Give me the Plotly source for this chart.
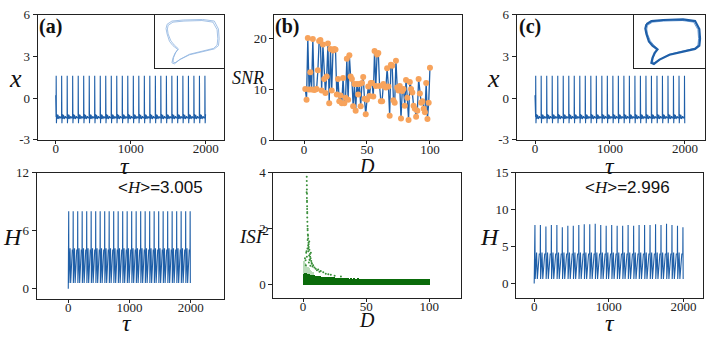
import plotly.graph_objects as go

W, H = 708, 339

# ---------------- data ----------------
# spike onset times (tau) (a)/(c)
spike_t_a = [5, 78, 152, 225, 299, 372, 446, 519, 593, 666, 740, 813, 887, 960,
             1034, 1107, 1181, 1254, 1328, 1401, 1475, 1548, 1622, 1695, 1769, 1842, 1916, 1989]
spike_t_c = [8, 81, 155, 228, 302, 375, 449, 522, 596, 669, 743, 816, 890, 963,
             1037, 1110, 1184, 1257, 1331, 1404, 1478, 1551, 1625, 1698, 1772, 1845, 1919, 1992]
# one-period waveform of x (offset from onset, value)
x_wave_dt = [0, 1.5, 5, 10, 16, 26, 36, 50, 62, 72]
x_wave_v = [-1.35, 1.6, -1.8, -1.15, -1.5, -1.2, -1.5, -1.3, -1.45, -1.35]
# one-period waveform of H
h_wave_dt = [0, 2, 5, 24, 34, 60]
h_wave_v = [4.0, 8.0, 0.6, 4.2, 0.6, 4.0]
# per-spike H peaks, panel (c)
h_peaks_c = [7.9, 7.9, 7.7, 7.9, 7.9, 7.6, 7.8, 7.8, 7.9, 8.0, 8.0, 8.1, 7.9, 7.8,
             7.9, 7.8, 7.8, 7.9, 7.8, 7.9, 7.9, 7.9, 8.0, 7.9, 8.1, 7.9, 7.8, 7.6]

# SNR vs D
snr_D = list(range(1, 101))
snr_v = [10.1, 8.0, 20.2, 10.0, 13.4, 10.0, 20.0, 9.9, 10.0, 10.1,
         13.8, 19.6, 19.8, 9.8, 18.9, 12.1, 9.3, 12.6, 19.1, 7.3,
         18.0, 9.8, 17.7, 18.0, 17.9, 9.0, 12.1, 7.7, 8.8, 7.3,
         12.3, 7.3, 8.4, 16.1, 8.0, 16.8, 12.6, 12.1, 6.7, 11.1,
         5.8, 11.1, 9.0, 11.1, 6.7, 11.3, 12.5, 8.2, 5.1, 8.0,
         10.6, 8.7, 11.3, 11.3, 8.6, 17.6, 10.7, 16.9, 17.2, 10.7,
         7.7, 7.7, 11.1, 10.6, 10.4, 14.2, 10.6, 4.8, 14.9, 14.7,
         7.9, 7.4, 15.7, 10.4, 9.8, 10.7, 4.3, 9.7, 10.1, 6.8,
         11.9, 8.4, 4.0, 11.5, 10.1, 9.4, 6.8, 6.2, 4.6, 5.8,
         12.1, 9.2, 7.4, 7.7, 6.2, 5.5, 11.3, 4.2, 7.4, 14.3]

# ISI^2 vs D : dense band (upper edge per D) + scattered points
band_D = list(range(1, 101))
band_top = [0.42, 0.45, 0.44, 0.42, 0.40, 0.38, 0.37, 0.36, 0.35, 0.34,
            0.33, 0.33, 0.32, 0.32, 0.31, 0.31, 0.30, 0.30, 0.30, 0.29,
            0.29, 0.29, 0.28, 0.28, 0.28, 0.27, 0.27, 0.27, 0.27, 0.26,
            0.26, 0.25, 0.26, 0.25, 0.25, 0.25, 0.24, 0.25, 0.24, 0.24,
            0.25, 0.24, 0.24, 0.25, 0.24, 0.24, 0.23, 0.24, 0.24, 0.23,
            0.24, 0.23, 0.24, 0.23, 0.23, 0.24, 0.23, 0.23, 0.24, 0.23,
            0.23, 0.24, 0.23, 0.23, 0.23, 0.24, 0.23, 0.23, 0.24, 0.23,
            0.23, 0.23, 0.24, 0.23, 0.23, 0.23, 0.24, 0.23, 0.23, 0.23,
            0.24, 0.23, 0.23, 0.23, 0.24, 0.23, 0.23, 0.23, 0.23, 0.24,
            0.23, 0.23, 0.23, 0.24, 0.23, 0.23, 0.23, 0.23, 0.23, 0.22]
light_D = [1, 2, 3, 4, 5, 6, 7, 8]
light_top = [0.85, 0.78, 0.72, 0.66, 0.6, 0.55, 0.5, 0.46]
isi_D = [2.9, 2.9, 3.0, 3.0, 3.1, 3.0, 3.1, 3.2, 3.2, 3.3, 3.3, 3.4, 3.5, 3.6,
         3.8, 4.0, 4.3, 4.0, 4.5, 3.5, 5.0, 4.2, 2.5, 5.5, 4.8, 3.0, 6.0, 5.2,
         2.0, 6.5, 4.6, 7.0, 8.0, 5.8, 9.0, 10.0, 12.0, 14.0, 16.0, 18.0, 20.0,
         25.0, 30.0, 1.5, 2.2, 3.6, 4.4, 5.6, 6.8, 7.5, 11.0, 13.0, 22.0,
         4.9, 3.9, 6.2, 2.8, 3.1, 3.3, 3.6, 2.7, 4.1, 5.3]
isi_v = [3.85, 3.7, 3.55, 3.4, 3.25, 3.1, 2.95, 2.8, 2.7, 2.55, 2.4, 2.25, 2.1, 1.95,
         1.8, 1.65, 1.5, 1.4, 1.35, 1.3, 1.25, 1.2, 1.15, 1.1, 1.05, 1.0, 0.95, 0.9,
         0.88, 0.85, 0.8, 0.75, 0.7, 0.68, 0.62, 0.58, 0.55, 0.5, 0.45, 0.4, 0.38,
         0.33, 0.3, 0.95, 0.7, 1.6, 1.45, 1.0, 0.78, 0.66, 0.52, 0.47, 0.36,
         1.55, 1.75, 1.15, 3.3, 3.0, 2.6, 2.0, 1.2, 1.3, 0.9]

# phase-portrait insets (normalised inset coordinates)
loop_u = [0.175, 0.245, 0.41, 0.69, 0.86, 0.92, 0.93, 0.92, 0.86, 0.69, 0.50, 0.36,
          0.28, 0.245, 0.26, 0.29, 0.33, 0.26, 0.21, 0.175, 0.16, 0.175]
loop_v = [0.82, 0.88, 0.90, 0.91, 0.88, 0.73, 0.55, 0.42, 0.36, 0.31, 0.25, 0.16,
          0.08, 0.10, 0.19, 0.28, 0.35, 0.42, 0.50, 0.64, 0.74, 0.82]
loop2_u = [0.19, 0.26, 0.42, 0.68, 0.84, 0.90, 0.91, 0.90, 0.85, 0.68, 0.50, 0.37,
           0.29, 0.26, 0.27, 0.30, 0.34, 0.28, 0.23, 0.19, 0.18, 0.19]
loop2_v = [0.80, 0.86, 0.88, 0.89, 0.86, 0.72, 0.55, 0.43, 0.37, 0.32, 0.26, 0.17,
           0.10, 0.12, 0.20, 0.29, 0.36, 0.43, 0.51, 0.64, 0.73, 0.80]

BLUE = '#1f5fa8'
GREEN = '#0a6b0a'
SERIF = 'Liberation Serif, Times New Roman, serif'


def build(spikes, dts, vals, start_v, peaks=None, peak_i=1):
    t, v = [0.0], [start_v]
    for k, s in enumerate(spikes):
        for j, (dt, val) in enumerate(zip(dts, vals)):
            tt = s + dt
            if tt > 2000:
                continue
            if peaks is not None and j == peak_i:
                val = peaks[k]
            t.append(tt)
            v.append(val)
    return t, v


def px(x):
    return x / W


def py(y):
    return 1 - y / H


def axis(x0, x1, rng, tv, tt, anchor, standoff=-6, ticklen=3):
    return dict(domain=[px(x0), px(x1)], range=rng, tickvals=tv, ticktext=tt,
                showline=True, mirror=True, linecolor='#222', linewidth=1,
                ticks='outside', ticklen=ticklen, tickcolor='#222',
                ticklabelstandoff=standoff,
                tickfont=dict(family=SERIF, size=13, color='#222'),
                showgrid=False, zeroline=False, anchor=anchor, fixedrange=True)


def yaxis(y0, y1, rng, tv, tt, anchor):
    d = axis(0, 1, rng, tv, tt, anchor, standoff=0, ticklen=4)
    d['domain'] = [py(y1), py(y0)]
    return d


fig = go.Figure()

xa_t, xa_v = build(spike_t_a, x_wave_dt, x_wave_v, 0.2)
xc_t, xc_v = build(spike_t_c, x_wave_dt, x_wave_v, 0.2)
ha_t, ha_v = build(spike_t_a, h_wave_dt, h_wave_v, 0.0)
hc_t, hc_v = build(spike_t_c, h_wave_dt, h_wave_v, 0.0, peaks=h_peaks_c)

line = dict(color=BLUE, width=1.1)
fig.add_trace(go.Scatter(x=xa_t, y=xa_v, mode='lines', line=line, xaxis='x', yaxis='y'))
fig.add_trace(go.Scatter(x=snr_D, y=snr_v, mode='lines+markers', line=dict(color=BLUE, width=1.3),
                         marker=dict(color='#f7a35c', size=6), xaxis='x2', yaxis='y2'))
fig.add_trace(go.Scatter(x=xc_t, y=xc_v, mode='lines', line=line, xaxis='x3', yaxis='y3'))
fig.add_trace(go.Scatter(x=ha_t, y=ha_v, mode='lines', line=line, xaxis='x4', yaxis='y4'))
fig.add_trace(go.Bar(x=light_D, y=light_top, width=1, marker=dict(color='#8cc48c', line=dict(width=0)),
                     opacity=0.6, xaxis='x5', yaxis='y5'))
fig.add_trace(go.Bar(x=band_D, y=band_top, width=1, marker=dict(color=GREEN, line=dict(width=0)),
                     xaxis='x5', yaxis='y5'))
fig.add_trace(go.Scatter(x=isi_D, y=isi_v, mode='markers', marker=dict(color='#3a8f3a', size=2),
                         xaxis='x5', yaxis='y5'))
fig.add_trace(go.Scatter(x=hc_t, y=hc_v, mode='lines', line=line, xaxis='x6', yaxis='y6'))
# insets
fig.add_trace(go.Scatter(x=loop_u, y=loop_v, mode='lines', line=dict(color='#8db3df', width=0.8),
                         xaxis='x7', yaxis='y7'))
fig.add_trace(go.Scatter(x=loop2_u, y=loop2_v, mode='lines', line=dict(color='#8db3df', width=0.8),
                         xaxis='x7', yaxis='y7'))
fig.add_trace(go.Scatter(x=loop2_u, y=loop2_v, mode='lines', line=dict(color='#6fa0d8', width=1),
                         xaxis='x8', yaxis='y8'))
fig.add_trace(go.Scatter(x=loop_u, y=loop_v, mode='lines', line=dict(color=BLUE, width=2.2),
                         xaxis='x8', yaxis='y8'))

tau_tv = [0, 1000, 2000]
tau_tt = ['0', '1000', '2000']
D_tv = [0, 50, 100]
D_tt = ['0', '50', '100']

lay = dict(
    width=W, height=H, margin=dict(l=0, r=0, t=0, b=0),
    paper_bgcolor='white', plot_bgcolor='white', showlegend=False,
    barmode='overlay', bargap=0,
    xaxis=axis(37.7, 224, [-240, 2245], tau_tv, tau_tt, 'y'),
    yaxis=yaxis(8, 139, [-3, 6], [-3, 0, 3, 6], ['-3', '0', '3', '6'], 'x'),
    xaxis2=axis(274.3, 461.7, [-23.6, 125.2], D_tv, D_tt, 'y2'),
    yaxis2=yaxis(8, 139.3, [0, 24.8], [0, 10, 20], ['0', '10', '20'], 'x2'),
    xaxis3=axis(516.7, 705, [-244, 2267], tau_tv, tau_tt, 'y3'),
    yaxis3=yaxis(8, 139, [-3, 6], [-3, 0, 3, 6], ['-3', '0', '3', '6'], 'x3'),
    xaxis4=axis(36.7, 224.3, [-516, 2549], tau_tv, tau_tt, 'y4'),
    yaxis4=yaxis(173.3, 305, [-1, 12], [0, 6, 12], ['0', '6', '12'], 'x4'),
    xaxis5=axis(273.3, 461, [-23.6, 125.2], D_tv, D_tt, 'y5'),
    yaxis5=yaxis(173.3, 304.3, [-0.46, 4], [0, 2, 4], ['0', '2', '4'], 'x5'),
    xaxis6=axis(516, 703.3, [-244, 2267], tau_tv, tau_tt, 'y6'),
    yaxis6=yaxis(173.3, 304.3, [-1.94, 15], [0, 5, 10, 15], ['0', '5', '10', '15'], 'x6'),
)
for i, (x0, x1) in zip((7, 8), ((155, 224), (634, 705))):
    ax = dict(domain=[px(x0), px(x1)], range=[0, 1], showline=True, mirror=True,
              linecolor='#222', linewidth=1, ticks='', showticklabels=False,
              showgrid=False, zeroline=False, anchor='y%d' % i, fixedrange=True)
    ay = dict(domain=[py(64), py(8)], range=[0, 1], showline=True, mirror=True,
              linecolor='#222', linewidth=1, ticks='', showticklabels=False,
              showgrid=False, zeroline=False, anchor='x%d' % i, fixedrange=True)
    lay['xaxis%d' % i] = ax
    lay['yaxis%d' % i] = ay

anns = []


def ann(text, x, y, size, family=SERIF, color='#111'):
    anns.append(dict(text=text, x=px(x), y=py(y), xref='paper', yref='paper',
                     showarrow=False, xanchor='center', yanchor='middle',
                     font=dict(family=family, size=size, color=color)))


ann('<b>(a)</b>', 50, 20, 20)
ann('<b>(b)</b>', 287, 20, 20)
ann('<b>(c)</b>', 530, 20, 20)
ann('<i>x</i>', 15, 75, 26)
ann('<i>x</i>', 494, 75, 26)
ann('<i>τ</i>', 125, 166, 24)
ann('<i>τ</i>', 610, 166, 24)
ann('<i>SNR</i>', 248, 74, 18)
ann('<i>D</i>', 367, 166, 20)
ann('<i>D</i>', 367, 327, 20)
ann('<i>H</i>', 13, 241, 24)
ann('<i>H</i>', 490, 241, 24)
ann('<i>ISI</i><sup>2</sup>', 254, 239, 19)
ann('<i>τ</i>', 127, 331, 24)
ann('<i>τ</i>', 610, 331, 24)
ann('&lt;<span style="font-family:Liberation Serif"><i>H</i></span>&gt;=3.005', 160, 189, 17,
    family='Liberation Sans, Arial, sans-serif')
ann('&lt;<span style="font-family:Liberation Serif"><i>H</i></span>&gt;=2.996', 627, 189, 17,
    family='Liberation Sans, Arial, sans-serif')
lay['annotations'] = anns

fig.update_layout(**lay)
fig.write_html("out.html", config={'displayModeBar': False},
               post_script="document.body.style.margin='0px';document.body.style.padding='0px';"
                           "document.documentElement.style.overflow='hidden';")
